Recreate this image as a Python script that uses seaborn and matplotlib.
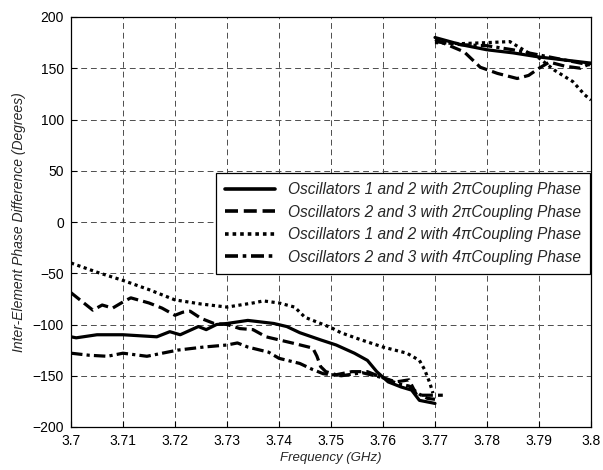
import numpy as np
import pandas as pd
import matplotlib
matplotlib.use("Agg")
import matplotlib.pyplot as plt
from matplotlib.lines import Line2D
import seaborn as sns

sns.set_style("ticks")
plt.rcParams['font.family'] = ['Liberation Sans', 'DejaVu Sans']

# ---- data ----
labels = [
    "Oscillators 1 and 2 with 2\u03c0Coupling Phase",
    "Oscillators 2 and 3 with 2\u03c0Coupling Phase",
    "Oscillators 1 and 2 with 4\u03c0Coupling Phase",
    "Oscillators 2 and 3 with 4\u03c0Coupling Phase",
]

s1_low_x = [3.700, 3.701, 3.705, 3.710, 3.7165, 3.719, 3.721, 3.7245, 3.726, 3.728, 3.730, 3.734,
            3.739, 3.7415, 3.744, 3.748, 3.751, 3.7545, 3.757, 3.7588, 3.761, 3.7635, 3.7655, 3.767, 3.770]
s1_low_y = [-112, -113, -110, -110, -112, -107, -110, -102, -105, -100, -99, -96,
            -99, -102, -108, -115, -120, -128, -135, -146, -156, -161, -164, -174, -177]
s1_up_x = [3.770, 3.775, 3.780, 3.785, 3.790, 3.795, 3.800]
s1_up_y = [180, 173, 168, 165, 161, 158, 155]

s2_low_x = [3.700, 3.7042, 3.706, 3.708, 3.710, 3.7115, 3.715, 3.7175, 3.720, 3.7215, 3.7229, 3.725,
            3.7275, 3.730, 3.7325, 3.735, 3.7375, 3.740, 3.7425, 3.7465, 3.7473, 3.748, 3.749, 3.751,
            3.754, 3.757, 3.760, 3.7625, 3.765, 3.7665, 3.7715]
s2_low_y = [-69, -86, -81, -84, -78, -74, -79, -84, -91, -88, -87, -94,
            -99, -100, -104, -105, -112, -115, -118, -123, -131, -141, -146, -149,
            -146, -146, -152, -156, -154, -169, -169]
s2_up_x = [3.770, 3.7756, 3.7787, 3.782, 3.7858, 3.788, 3.790, 3.792, 3.795, 3.798, 3.800]
s2_up_y = [178, 166, 151, 145, 140, 143, 150, 156, 152, 150, 155]

s3_low_x = [3.700, 3.705, 3.710, 3.715, 3.720, 3.725, 3.730, 3.735, 3.737, 3.740, 3.743, 3.745,
            3.750, 3.7519, 3.7558, 3.760, 3.7646, 3.767, 3.768, 3.769, 3.7696]
s3_low_y = [-40, -49, -57, -66, -76, -80, -83, -79, -77, -79, -83, -93,
            -103, -108, -115, -122, -128, -135, -144, -157, -167]
s3_up_x = [3.770, 3.775, 3.780, 3.7844, 3.786, 3.788, 3.790, 3.793, 3.7965, 3.7988, 3.800]
s3_up_y = [175, 174, 175, 176, 171, 165, 160, 148, 137, 124, 119]

s4_low_x = [3.700, 3.7035, 3.707, 3.710, 3.7146, 3.7205, 3.7255, 3.730, 3.732, 3.734, 3.738, 3.740,
            3.744, 3.7465, 3.7485, 3.752, 3.756, 3.760, 3.763, 3.765, 3.767, 3.7685, 3.770]
s4_low_y = [-128, -130, -131, -128, -131, -125, -122, -120, -118, -122, -127, -133,
            -138, -144, -148, -150, -147, -152, -158, -160, -168, -172, -173]
s4_up_x = [3.770, 3.775, 3.780, 3.785, 3.790, 3.795, 3.800]
s4_up_y = [176, 173, 172, 168, 163, 158, 153]

x_ticks = [3.70, 3.71, 3.72, 3.73, 3.74, 3.75, 3.76, 3.77, 3.78, 3.79, 3.80]
x_tick_labels = ["3.7", "3.71", "3.72", "3.73", "3.74", "3.75", "3.76", "3.77", "3.78", "3.79", "3.8"]
y_ticks = [-200, -150, -100, -50, 0, 50, 100, 150, 200]

series = [
    (s1_low_x, s1_low_y, s1_up_x, s1_up_y),
    (s2_low_x, s2_low_y, s2_up_x, s2_up_y),
    (s3_low_x, s3_low_y, s3_up_x, s3_up_y),
    (s4_low_x, s4_low_y, s4_up_x, s4_up_y),
]
styles = [
    dict(linestyle='-'),
    dict(linestyle=(0, (3.6, 1.6))),
    dict(linestyle=(0, (1.0, 1.1))),
    dict(linestyle=(0, (3.6, 1.3, 1.0, 1.3))),
]
LW = 2.3

fig = plt.figure(figsize=(6.03, 4.70), dpi=100)
ax = fig.add_axes([71/603, 1-427/470, 520/603, 410/470])

for (lx, ly, ux, uy), st in zip(series, styles):
    for xs, ys in ((lx, ly), (ux, uy)):
        df = pd.DataFrame({"f": xs, "p": ys})
        sns.lineplot(data=df, x="f", y="p", ax=ax, color='black', lw=LW,
                     estimator=None, sort=False, legend=False, **st)

ax.set_xlim(3.7, 3.8)
ax.set_ylim(-200, 200)
ax.set_xticks(x_ticks)
ax.set_xticklabels(x_tick_labels)
ax.set_yticks(y_ticks)
ax.tick_params(direction='in', length=4, width=0.8, labelsize=10, colors='black')
ax.tick_params(axis='x', pad=5)
ax.tick_params(axis='y', pad=5)
ax.grid(True, color='0.3', linestyle=(0, (6, 4)), linewidth=0.7)
for sp in ax.spines.values():
    sp.set_visible(True)
    sp.set_linewidth(0.9)
    sp.set_color('black')

ax.set_xlabel("Frequency (GHz)", fontsize=9.5, style='italic', labelpad=3)
ax.set_ylabel("Inter-Element Phase Difference (Degrees)", fontsize=10, style='italic', labelpad=5)

handles = [Line2D([0], [0], color='black', lw=LW + 0.3, **st) for st in styles]
leg = ax.legend(handles, labels, loc='upper right', bbox_to_anchor=(0.998, 0.6195),
                borderaxespad=0, fancybox=False, framealpha=1, edgecolor='black',
                handlelength=3.2, handletextpad=0.8, labelspacing=0.48,
                prop={'style': 'italic', 'size': 11.2}, borderpad=0.6)
leg.get_frame().set_linewidth(0.9)

fig.savefig("out.png", dpi=100)
